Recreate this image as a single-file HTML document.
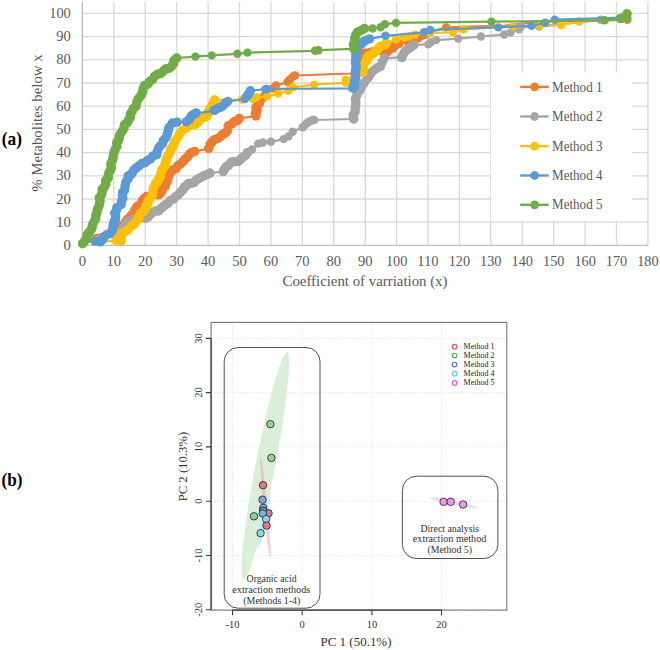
<!DOCTYPE html>
<html><head><meta charset="utf-8"><style>
html,body{margin:0;padding:0;background:#fff;width:660px;height:650px;overflow:hidden}
svg{display:block}
svg text{font-family:"Liberation Serif",serif}
</style></head><body>
<svg width="660" height="650" viewBox="0 0 660 650">
<rect width="660" height="650" fill="#fff"/>
<path d="M82.4 2V245.4 M113.8 2V245.4 M145.2 2V245.4 M176.7 2V245.4 M208.1 2V245.4 M239.5 2V245.4 M270.9 2V245.4 M302.3 2V245.4 M333.7 2V245.4 M365.2 2V245.4 M396.6 2V245.4 M428.0 2V245.4 M459.4 2V245.4 M490.8 2V245.4 M522.2 2V245.4 M553.7 2V245.4 M585.1 2V245.4 M616.5 2V245.4 M647.9 2V245.4 M82.4 222.2H647.9 M82.4 199.0H647.9 M82.4 175.8H647.9 M82.4 152.6H647.9 M82.4 129.4H647.9 M82.4 106.2H647.9 M82.4 83.0H647.9 M82.4 59.8H647.9 M82.4 36.6H647.9 M82.4 13.4H647.9" stroke="#d9d9d9" stroke-width="1.3" fill="none"/>
<path d="M82.4 2V245.4H647.9" stroke="#bfbfbf" stroke-width="1.3" fill="none"/>
<g font-family="Liberation Serif, serif" font-size="14.2" fill="#595959"><text x="70.8" y="249.9" text-anchor="end" textLength="7.3" lengthAdjust="spacingAndGlyphs">0</text><text x="70.8" y="226.7" text-anchor="end" textLength="14.6" lengthAdjust="spacingAndGlyphs">10</text><text x="70.8" y="203.5" text-anchor="end" textLength="14.6" lengthAdjust="spacingAndGlyphs">20</text><text x="70.8" y="180.3" text-anchor="end" textLength="14.6" lengthAdjust="spacingAndGlyphs">30</text><text x="70.8" y="157.1" text-anchor="end" textLength="14.6" lengthAdjust="spacingAndGlyphs">40</text><text x="70.8" y="133.9" text-anchor="end" textLength="14.6" lengthAdjust="spacingAndGlyphs">50</text><text x="70.8" y="110.7" text-anchor="end" textLength="14.6" lengthAdjust="spacingAndGlyphs">60</text><text x="70.8" y="87.5" text-anchor="end" textLength="14.6" lengthAdjust="spacingAndGlyphs">70</text><text x="70.8" y="64.3" text-anchor="end" textLength="14.6" lengthAdjust="spacingAndGlyphs">80</text><text x="70.8" y="41.1" text-anchor="end" textLength="14.6" lengthAdjust="spacingAndGlyphs">90</text><text x="70.8" y="17.9" text-anchor="end" textLength="21.6" lengthAdjust="spacingAndGlyphs">100</text><text x="82.4" y="266.0" text-anchor="middle" textLength="7.3" lengthAdjust="spacingAndGlyphs">0</text><text x="113.8" y="266.0" text-anchor="middle" textLength="14.6" lengthAdjust="spacingAndGlyphs">10</text><text x="145.2" y="266.0" text-anchor="middle" textLength="14.6" lengthAdjust="spacingAndGlyphs">20</text><text x="176.7" y="266.0" text-anchor="middle" textLength="14.6" lengthAdjust="spacingAndGlyphs">30</text><text x="208.1" y="266.0" text-anchor="middle" textLength="14.6" lengthAdjust="spacingAndGlyphs">40</text><text x="239.5" y="266.0" text-anchor="middle" textLength="14.6" lengthAdjust="spacingAndGlyphs">50</text><text x="270.9" y="266.0" text-anchor="middle" textLength="14.6" lengthAdjust="spacingAndGlyphs">60</text><text x="302.3" y="266.0" text-anchor="middle" textLength="14.6" lengthAdjust="spacingAndGlyphs">70</text><text x="333.7" y="266.0" text-anchor="middle" textLength="14.6" lengthAdjust="spacingAndGlyphs">80</text><text x="365.2" y="266.0" text-anchor="middle" textLength="14.6" lengthAdjust="spacingAndGlyphs">90</text><text x="396.6" y="266.0" text-anchor="middle" textLength="21.4" lengthAdjust="spacingAndGlyphs">100</text><text x="428.0" y="266.0" text-anchor="middle" textLength="21.4" lengthAdjust="spacingAndGlyphs">110</text><text x="459.4" y="266.0" text-anchor="middle" textLength="21.4" lengthAdjust="spacingAndGlyphs">120</text><text x="490.8" y="266.0" text-anchor="middle" textLength="21.4" lengthAdjust="spacingAndGlyphs">130</text><text x="522.2" y="266.0" text-anchor="middle" textLength="21.4" lengthAdjust="spacingAndGlyphs">140</text><text x="553.7" y="266.0" text-anchor="middle" textLength="21.4" lengthAdjust="spacingAndGlyphs">150</text><text x="585.1" y="266.0" text-anchor="middle" textLength="21.4" lengthAdjust="spacingAndGlyphs">160</text><text x="616.5" y="266.0" text-anchor="middle" textLength="21.4" lengthAdjust="spacingAndGlyphs">170</text><text x="647.9" y="266.0" text-anchor="middle" textLength="21.4" lengthAdjust="spacingAndGlyphs">180</text></g>
<text x="365" y="286.4" text-anchor="middle" font-family="Liberation Serif, serif" font-size="14.8" fill="#595959" textLength="165" lengthAdjust="spacingAndGlyphs">Coefficient of varriation (x)</text>
<text transform="translate(41.8,123) rotate(-90)" text-anchor="middle" font-family="Liberation Serif, serif" font-size="14.8" fill="#595959" textLength="137.5" lengthAdjust="spacingAndGlyphs">% Metabolites below x</text>
<polyline fill="none" stroke="#ED7D31" stroke-width="2.2" stroke-linejoin="round" points="81.0,240.5 92.2,235.9 102.4,234.0 113.5,232.8 117.4,232.0 120.0,229.0 125.8,222.0 131.9,215.8 137.3,207.5 142.5,201.5 146.5,196.5 146.5,195.4 158.1,194.6 161.9,190.8 165.8,183.1 169.6,175.4 173.5,170.0 178.1,166.2 182.7,161.5 190.0,154.6 194.6,151.5 209.2,148.5 210.0,143.8 214.6,140.0 220.8,136.5 226.9,131.0 228.5,126.2 234.6,121.5 239.2,118.5 255.5,115.8 256.5,108.0 259.0,103.0 262.0,99.0 264.5,96.0 272.5,88.5 276.0,85.5 287.5,82.0 290.0,79.5 293.0,76.5 295.0,75.5 350.4,73.5 360.0,72.0 361.5,66.0 362.7,59.8 364.6,53.5 372.0,51.8 379.4,50.0 386.4,51.8 392.7,47.6 399.1,43.3 407.6,41.7 413.0,40.2 418.2,38.6 422.4,35.9 426.0,34.5 430.2,32.3 446.1,27.4 505.3,25.5 524.4,23.4 549.8,21.5 627.3,19.8"/><g fill="#ED7D31"><circle cx="113.4" cy="232.5" r="4.75"/><circle cx="116.9" cy="231.6" r="4.75"/><circle cx="120.2" cy="229.2" r="4.75"/><circle cx="121.3" cy="226.2" r="4.75"/><circle cx="123.9" cy="224.4" r="4.75"/><circle cx="125.6" cy="221.8" r="4.75"/><circle cx="127.3" cy="219.4" r="4.75"/><circle cx="129.9" cy="217.9" r="4.75"/><circle cx="131.2" cy="215.3" r="4.75"/><circle cx="133.6" cy="213.0" r="4.75"/><circle cx="134.9" cy="209.8" r="4.75"/><circle cx="136.7" cy="207.0" r="4.75"/><circle cx="138.9" cy="205.4" r="4.75"/><circle cx="141.2" cy="203.9" r="4.75"/><circle cx="142.0" cy="201.1" r="4.75"/><circle cx="144.1" cy="198.7" r="4.75"/><circle cx="146.5" cy="196.5" r="4.75"/><circle cx="158.3" cy="194.8" r="4.75"/><circle cx="160.6" cy="193.3" r="4.75"/><circle cx="162.0" cy="190.9" r="4.75"/><circle cx="163.0" cy="188.1" r="4.75"/><circle cx="165.3" cy="186.1" r="4.75"/><circle cx="165.1" cy="182.7" r="4.75"/><circle cx="167.6" cy="180.8" r="4.75"/><circle cx="168.0" cy="177.8" r="4.75"/><circle cx="169.1" cy="175.0" r="4.75"/><circle cx="171.0" cy="172.3" r="4.75"/><circle cx="173.3" cy="169.7" r="4.75"/><circle cx="176.2" cy="168.5" r="4.75"/><circle cx="177.7" cy="165.8" r="4.75"/><circle cx="180.5" cy="164.0" r="4.75"/><circle cx="182.9" cy="161.7" r="4.75"/><circle cx="185.0" cy="159.0" r="4.75"/><circle cx="187.6" cy="157.0" r="4.75"/><circle cx="189.6" cy="153.9" r="4.75"/><circle cx="191.9" cy="152.4" r="4.75"/><circle cx="194.6" cy="151.5" r="4.75"/><circle cx="209.2" cy="148.5" r="4.2"/><circle cx="208.7" cy="148.4" r="4.75"/><circle cx="210.2" cy="144.1" r="4.75"/><circle cx="212.2" cy="141.8" r="4.75"/><circle cx="214.4" cy="139.7" r="4.75"/><circle cx="217.8" cy="138.4" r="4.75"/><circle cx="220.7" cy="136.4" r="4.75"/><circle cx="222.6" cy="134.4" r="4.75"/><circle cx="225.2" cy="133.2" r="4.75"/><circle cx="227.2" cy="131.1" r="4.75"/><circle cx="228.2" cy="125.8" r="4.75"/><circle cx="231.6" cy="124.0" r="4.75"/><circle cx="234.6" cy="121.5" r="4.75"/><circle cx="237.3" cy="120.6" r="4.75"/><circle cx="239.2" cy="118.5" r="4.75"/><circle cx="255.5" cy="115.8" r="4.2"/><circle cx="255.9" cy="115.9" r="4.75"/><circle cx="255.5" cy="113.2" r="4.75"/><circle cx="257.0" cy="110.7" r="4.75"/><circle cx="255.9" cy="107.7" r="4.75"/><circle cx="257.6" cy="105.4" r="4.75"/><circle cx="259.4" cy="103.3" r="4.75"/><circle cx="261.5" cy="98.6" r="4.75"/><circle cx="264.5" cy="96.0" r="4.75"/><circle cx="272.5" cy="88.5" r="4.2"/><circle cx="276.0" cy="85.5" r="4.2"/><circle cx="287.5" cy="82.0" r="4.2"/><circle cx="290.0" cy="79.5" r="4.2"/><circle cx="293.0" cy="76.5" r="4.2"/><circle cx="295.0" cy="75.5" r="4.2"/><circle cx="360.0" cy="72.0" r="4.75"/><circle cx="359.9" cy="68.8" r="4.75"/><circle cx="361.8" cy="66.1" r="4.75"/><circle cx="362.6" cy="63.0" r="4.75"/><circle cx="362.8" cy="59.8" r="4.75"/><circle cx="364.3" cy="56.8" r="4.75"/><circle cx="364.5" cy="53.2" r="4.75"/><circle cx="368.4" cy="53.0" r="4.75"/><circle cx="372.0" cy="52.0" r="4.75"/><circle cx="375.7" cy="51.0" r="4.75"/><circle cx="379.4" cy="49.9" r="4.75"/><circle cx="382.7" cy="51.5" r="4.75"/><circle cx="386.8" cy="52.5" r="4.75"/><circle cx="389.5" cy="49.7" r="4.75"/><circle cx="392.9" cy="47.8" r="4.75"/><circle cx="395.5" cy="44.8" r="4.75"/><circle cx="399.1" cy="43.3" r="4.75"/><circle cx="407.6" cy="41.7" r="4.2"/><circle cx="413.0" cy="40.2" r="4.2"/><circle cx="418.2" cy="38.6" r="4.2"/><circle cx="422.4" cy="35.9" r="4.2"/><circle cx="426.0" cy="34.5" r="4.2"/><circle cx="430.2" cy="32.3" r="4.2"/><circle cx="446.1" cy="27.4" r="4.2"/><circle cx="627.3" cy="19.8" r="4.2"/></g>
<polyline fill="none" stroke="#A5A5A5" stroke-width="2.2" stroke-linejoin="round" points="82.0,243.0 92.0,240.0 99.5,236.5 107.3,235.2 116.2,234.0 122.3,227.8 125.8,224.2 129.7,220.5 133.0,219.5 145.7,219.2 153.1,213.1 161.2,209.2 167.3,203.1 173.5,199.2 178.1,193.8 182.7,189.2 188.5,183.8 196.2,180.8 203.8,176.2 210.0,173.1 223.1,171.5 228.5,165.4 231.5,162.3 237.7,160.8 245.4,155.4 247.3,152.7 252.0,149.5 258.2,143.6 263.0,142.5 270.9,141.8 283.6,139.1 288.5,136.5 292.7,131.8 302.7,127.3 305.0,125.0 307.3,122.7 310.0,121.2 312.7,120.0 314.2,120.0 353.5,119.0 354.3,112.0 355.0,105.0 355.6,99.0 358.4,91.8 361.5,87.5 364.6,83.2 367.6,79.0 370.7,74.6 375.6,69.7 380.6,66.5 383.0,62.3 384.3,58.0 401.3,57.3 403.3,53.9 407.6,49.7 411.8,46.5 413.9,44.9 428.3,44.4 430.9,42.3 436.2,40.1 458.2,38.6 480.9,36.5 504.2,34.5 510.6,32.4 519.1,29.2 521.2,26.5 539.2,26.6 600.5,19.8 625.9,16.7"/><g fill="#A5A5A5"><circle cx="116.5" cy="234.3" r="4.75"/><circle cx="118.4" cy="232.1" r="4.75"/><circle cx="120.9" cy="230.5" r="4.75"/><circle cx="122.7" cy="228.2" r="4.75"/><circle cx="125.5" cy="223.9" r="4.75"/><circle cx="127.6" cy="222.2" r="4.75"/><circle cx="129.8" cy="220.8" r="4.75"/><circle cx="133.0" cy="219.5" r="4.75"/><circle cx="145.2" cy="218.5" r="4.75"/><circle cx="148.1" cy="217.1" r="4.75"/><circle cx="150.3" cy="214.7" r="4.75"/><circle cx="152.8" cy="212.5" r="4.75"/><circle cx="155.5" cy="211.1" r="4.75"/><circle cx="158.7" cy="210.9" r="4.75"/><circle cx="160.7" cy="208.7" r="4.75"/><circle cx="162.9" cy="206.8" r="4.75"/><circle cx="165.1" cy="205.0" r="4.75"/><circle cx="167.7" cy="203.7" r="4.75"/><circle cx="170.0" cy="200.5" r="4.75"/><circle cx="173.4" cy="199.1" r="4.75"/><circle cx="175.9" cy="196.6" r="4.75"/><circle cx="178.6" cy="194.3" r="4.75"/><circle cx="180.8" cy="191.9" r="4.75"/><circle cx="183.1" cy="189.7" r="4.75"/><circle cx="184.4" cy="187.1" r="4.75"/><circle cx="186.5" cy="185.5" r="4.75"/><circle cx="188.4" cy="183.6" r="4.75"/><circle cx="191.3" cy="183.4" r="4.75"/><circle cx="193.9" cy="182.6" r="4.75"/><circle cx="195.9" cy="180.3" r="4.75"/><circle cx="198.4" cy="178.8" r="4.75"/><circle cx="201.0" cy="177.3" r="4.75"/><circle cx="203.6" cy="175.8" r="4.75"/><circle cx="206.9" cy="174.6" r="4.75"/><circle cx="210.0" cy="173.1" r="4.75"/><circle cx="223.1" cy="171.5" r="4.2"/><circle cx="223.2" cy="171.6" r="4.75"/><circle cx="224.6" cy="169.2" r="4.75"/><circle cx="226.0" cy="166.8" r="4.75"/><circle cx="228.4" cy="165.3" r="4.75"/><circle cx="231.4" cy="162.1" r="4.75"/><circle cx="234.6" cy="161.7" r="4.75"/><circle cx="238.2" cy="161.5" r="4.75"/><circle cx="240.5" cy="159.3" r="4.75"/><circle cx="242.8" cy="157.2" r="4.75"/><circle cx="245.6" cy="155.5" r="4.75"/><circle cx="247.3" cy="152.7" r="4.75"/><circle cx="252.0" cy="149.5" r="4.2"/><circle cx="258.2" cy="143.6" r="4.2"/><circle cx="263.0" cy="142.5" r="4.2"/><circle cx="270.9" cy="141.8" r="4.2"/><circle cx="283.6" cy="139.1" r="4.2"/><circle cx="288.5" cy="136.5" r="4.2"/><circle cx="292.7" cy="131.8" r="4.2"/><circle cx="302.7" cy="127.3" r="4.2"/><circle cx="305.0" cy="125.0" r="4.2"/><circle cx="307.3" cy="122.7" r="4.2"/><circle cx="310.0" cy="121.2" r="4.2"/><circle cx="312.7" cy="120.0" r="4.2"/><circle cx="314.2" cy="120.0" r="4.2"/><circle cx="353.5" cy="119.0" r="4.2"/><circle cx="353.8" cy="119.0" r="4.75"/><circle cx="353.1" cy="115.4" r="4.75"/><circle cx="355.0" cy="112.1" r="4.75"/><circle cx="355.2" cy="108.6" r="4.75"/><circle cx="355.7" cy="105.1" r="4.75"/><circle cx="355.8" cy="102.1" r="4.75"/><circle cx="355.4" cy="98.9" r="4.75"/><circle cx="356.8" cy="95.3" r="4.75"/><circle cx="357.8" cy="91.4" r="4.75"/><circle cx="360.1" cy="89.8" r="4.75"/><circle cx="360.9" cy="87.0" r="4.75"/><circle cx="362.4" cy="84.9" r="4.75"/><circle cx="364.2" cy="82.9" r="4.75"/><circle cx="367.1" cy="78.6" r="4.75"/><circle cx="368.9" cy="76.6" r="4.75"/><circle cx="370.1" cy="74.0" r="4.75"/><circle cx="372.5" cy="71.5" r="4.75"/><circle cx="375.3" cy="69.2" r="4.75"/><circle cx="377.7" cy="67.5" r="4.75"/><circle cx="380.4" cy="66.4" r="4.75"/><circle cx="382.2" cy="62.1" r="4.75"/><circle cx="384.3" cy="58.0" r="4.75"/><circle cx="401.3" cy="57.3" r="4.2"/><circle cx="401.9" cy="57.6" r="4.75"/><circle cx="403.4" cy="54.0" r="4.75"/><circle cx="405.0" cy="51.3" r="4.75"/><circle cx="407.3" cy="49.3" r="4.75"/><circle cx="409.5" cy="47.9" r="4.75"/><circle cx="411.7" cy="46.3" r="4.75"/><circle cx="413.9" cy="44.9" r="4.75"/><circle cx="428.3" cy="44.4" r="4.2"/><circle cx="430.9" cy="42.3" r="4.2"/><circle cx="436.2" cy="40.1" r="4.2"/><circle cx="458.2" cy="38.6" r="4.2"/><circle cx="480.9" cy="36.5" r="4.2"/><circle cx="504.2" cy="34.5" r="4.2"/><circle cx="510.6" cy="32.4" r="4.2"/><circle cx="519.1" cy="29.2" r="4.2"/><circle cx="521.2" cy="26.5" r="4.2"/><circle cx="539.2" cy="26.6" r="4.2"/><circle cx="600.5" cy="19.8" r="4.2"/><circle cx="625.9" cy="16.7" r="4.2"/></g>
<polyline fill="none" stroke="#FFC000" stroke-width="2.2" stroke-linejoin="round" points="107.3,241.4 115.9,240.8 120.5,241.0 120.5,236.0 121.0,233.0 125.8,231.5 128.5,230.3 131.9,226.6 134.6,224.2 138.1,219.2 139.5,216.8 143.2,211.0 145.0,209.2 150.3,198.5 153.6,188.5 157.5,180.8 161.3,173.1 164.5,163.5 166.2,158.0 170.9,149.7 175.5,142.3 179.2,135.9 181.9,130.3 185.6,127.5 190.2,125.7 194.9,123.9 200.0,118.5 206.9,116.9 210.0,109.2 212.3,103.1 214.6,100.0 242.0,99.5 252.7,99.1 256.4,97.3 267.3,96.4 278.2,93.6 288.2,90.9 292.7,87.3 314.2,84.6 345.8,82.6 345.8,80.0 362.3,72.0 363.2,68.0 364.6,63.0 366.5,60.0 369.5,55.5 374.5,51.8 380.6,46.9 384.3,44.5 386.0,43.5 395.9,39.6 404.0,37.8 409.0,36.5 415.0,34.8 424.5,32.7 430.2,33.0 452.9,32.3 463.5,29.2 512.7,26.6 539.2,26.0 561.5,25.0 579.2,21.5 623.8,18.8"/><g fill="#FFC000"><circle cx="115.9" cy="240.1" r="4.75"/><circle cx="121.1" cy="241.0" r="4.75"/><circle cx="121.4" cy="236.1" r="4.75"/><circle cx="121.0" cy="232.9" r="4.75"/><circle cx="125.8" cy="231.5" r="4.75"/><circle cx="128.0" cy="229.8" r="4.75"/><circle cx="131.4" cy="226.1" r="4.75"/><circle cx="134.4" cy="224.0" r="4.75"/><circle cx="136.0" cy="221.5" r="4.75"/><circle cx="138.6" cy="219.5" r="4.75"/><circle cx="139.0" cy="216.5" r="4.75"/><circle cx="140.6" cy="213.4" r="4.75"/><circle cx="143.8" cy="211.6" r="4.75"/><circle cx="145.0" cy="209.2" r="4.75"/><circle cx="145.8" cy="206.2" r="4.75"/><circle cx="147.7" cy="203.9" r="4.75"/><circle cx="148.2" cy="200.8" r="4.75"/><circle cx="150.3" cy="198.5" r="4.75"/><circle cx="151.9" cy="196.3" r="4.75"/><circle cx="152.6" cy="193.7" r="4.75"/><circle cx="153.1" cy="191.1" r="4.75"/><circle cx="153.2" cy="188.3" r="4.75"/><circle cx="154.7" cy="185.8" r="4.75"/><circle cx="155.7" cy="183.1" r="4.75"/><circle cx="157.9" cy="181.0" r="4.75"/><circle cx="158.8" cy="178.3" r="4.75"/><circle cx="160.5" cy="175.9" r="4.75"/><circle cx="161.0" cy="173.0" r="4.75"/><circle cx="161.9" cy="169.7" r="4.75"/><circle cx="164.0" cy="166.9" r="4.75"/><circle cx="165.3" cy="163.8" r="4.75"/><circle cx="166.0" cy="160.9" r="4.75"/><circle cx="166.7" cy="158.3" r="4.75"/><circle cx="168.3" cy="155.5" r="4.75"/><circle cx="169.7" cy="152.7" r="4.75"/><circle cx="170.5" cy="149.4" r="4.75"/><circle cx="172.5" cy="147.3" r="4.75"/><circle cx="173.7" cy="144.6" r="4.75"/><circle cx="174.8" cy="141.9" r="4.75"/><circle cx="176.6" cy="138.7" r="4.75"/><circle cx="178.8" cy="135.7" r="4.75"/><circle cx="180.2" cy="132.9" r="4.75"/><circle cx="182.1" cy="130.6" r="4.75"/><circle cx="185.9" cy="128.3" r="4.75"/><circle cx="190.2" cy="125.6" r="4.75"/><circle cx="195.5" cy="124.4" r="4.75"/><circle cx="198.1" cy="121.8" r="4.75"/><circle cx="200.2" cy="119.3" r="4.75"/><circle cx="203.4" cy="117.5" r="4.75"/><circle cx="206.4" cy="116.7" r="4.75"/><circle cx="207.5" cy="114.1" r="4.75"/><circle cx="208.5" cy="111.6" r="4.75"/><circle cx="209.5" cy="109.0" r="4.75"/><circle cx="211.4" cy="106.2" r="4.75"/><circle cx="212.9" cy="103.5" r="4.75"/><circle cx="214.6" cy="100.0" r="4.75"/><circle cx="242.0" cy="99.5" r="4.2"/><circle cx="252.7" cy="99.1" r="4.2"/><circle cx="256.4" cy="97.3" r="4.2"/><circle cx="267.3" cy="96.4" r="4.2"/><circle cx="278.2" cy="93.6" r="4.2"/><circle cx="288.2" cy="90.9" r="4.2"/><circle cx="292.7" cy="87.3" r="4.2"/><circle cx="314.2" cy="84.6" r="4.2"/><circle cx="345.8" cy="82.6" r="4.2"/><circle cx="345.8" cy="80.0" r="4.2"/><circle cx="362.9" cy="72.1" r="4.75"/><circle cx="363.2" cy="68.0" r="4.75"/><circle cx="364.8" cy="63.1" r="4.75"/><circle cx="366.9" cy="60.3" r="4.75"/><circle cx="367.4" cy="57.3" r="4.75"/><circle cx="369.7" cy="55.7" r="4.75"/><circle cx="372.4" cy="54.2" r="4.75"/><circle cx="374.8" cy="52.2" r="4.75"/><circle cx="376.8" cy="50.5" r="4.75"/><circle cx="378.5" cy="48.5" r="4.75"/><circle cx="380.3" cy="46.4" r="4.75"/><circle cx="384.6" cy="44.9" r="4.75"/><circle cx="386.0" cy="43.5" r="4.75"/><circle cx="395.9" cy="39.6" r="4.2"/><circle cx="404.0" cy="37.8" r="4.2"/><circle cx="409.0" cy="36.5" r="4.2"/><circle cx="415.0" cy="34.8" r="4.2"/><circle cx="424.5" cy="32.7" r="4.2"/><circle cx="430.2" cy="33.0" r="4.2"/><circle cx="452.9" cy="32.3" r="4.2"/><circle cx="463.5" cy="29.2" r="4.2"/><circle cx="512.7" cy="26.6" r="4.2"/><circle cx="539.2" cy="26.0" r="4.2"/><circle cx="561.5" cy="25.0" r="4.2"/><circle cx="579.2" cy="21.5" r="4.2"/><circle cx="623.8" cy="18.8" r="4.2"/></g>
<polyline fill="none" stroke="#5B9BD5" stroke-width="2.2" stroke-linejoin="round" points="81.5,242.0 89.8,241.7 95.0,241.4 100.0,241.4 104.8,236.5 109.8,232.8 113.5,227.8 114.7,221.7 115.3,213.1 116.5,206.9 120.8,204.5 122.7,198.3 123.9,189.7 125.8,182.3 128.2,176.2 131.9,172.5 136.5,168.3 142.0,164.0 145.0,162.6 150.5,159.0 156.1,154.3 158.9,147.9 163.5,140.5 167.2,134.0 169.0,127.5 172.7,123.9 177.0,122.2 186.6,121.8 190.2,119.2 193.9,113.7 196.2,113.1 214.6,110.8 217.7,108.5 223.1,105.4 227.7,101.5 245.0,99.0 248.2,93.8 250.3,90.8 265.4,89.2 266.8,89.0 353.3,88.3 354.5,86.5 355.2,78.5 355.5,63.0 356.0,53.8 357.5,47.0 360.9,44.5 364.6,40.2 369.5,38.9 385.5,35.8 424.1,32.3 430.2,30.0 498.3,27.4 531.5,25.8 545.3,22.8 554.6,19.7 623.8,17.7"/><g fill="#5B9BD5"><circle cx="95.0" cy="241.1" r="4.75"/><circle cx="100.4" cy="241.8" r="4.75"/><circle cx="103.0" cy="239.5" r="4.75"/><circle cx="104.7" cy="236.3" r="4.75"/><circle cx="107.2" cy="234.5" r="4.75"/><circle cx="110.4" cy="233.3" r="4.75"/><circle cx="112.0" cy="230.5" r="4.75"/><circle cx="112.9" cy="227.7" r="4.75"/><circle cx="113.4" cy="224.6" r="4.75"/><circle cx="114.1" cy="221.7" r="4.75"/><circle cx="115.6" cy="218.9" r="4.75"/><circle cx="115.7" cy="216.0" r="4.75"/><circle cx="114.7" cy="213.0" r="4.75"/><circle cx="116.5" cy="210.1" r="4.75"/><circle cx="116.9" cy="207.7" r="4.75"/><circle cx="121.1" cy="204.6" r="4.75"/><circle cx="121.5" cy="201.3" r="4.75"/><circle cx="122.8" cy="198.3" r="4.75"/><circle cx="122.4" cy="195.3" r="4.75"/><circle cx="122.6" cy="192.4" r="4.75"/><circle cx="124.7" cy="189.9" r="4.75"/><circle cx="125.1" cy="186.1" r="4.75"/><circle cx="125.8" cy="182.3" r="4.75"/><circle cx="127.7" cy="179.5" r="4.75"/><circle cx="128.1" cy="176.1" r="4.75"/><circle cx="130.5" cy="174.8" r="4.75"/><circle cx="132.3" cy="172.9" r="4.75"/><circle cx="133.8" cy="170.0" r="4.75"/><circle cx="136.2" cy="167.9" r="4.75"/><circle cx="139.0" cy="165.9" r="4.75"/><circle cx="141.8" cy="163.6" r="4.75"/><circle cx="145.1" cy="162.7" r="4.75"/><circle cx="147.5" cy="160.4" r="4.75"/><circle cx="150.4" cy="158.9" r="4.75"/><circle cx="152.9" cy="156.1" r="4.75"/><circle cx="156.8" cy="154.6" r="4.75"/><circle cx="157.3" cy="151.0" r="4.75"/><circle cx="158.8" cy="147.9" r="4.75"/><circle cx="160.6" cy="145.5" r="4.75"/><circle cx="162.6" cy="143.4" r="4.75"/><circle cx="163.4" cy="140.4" r="4.75"/><circle cx="166.0" cy="137.6" r="4.75"/><circle cx="167.2" cy="134.0" r="4.75"/><circle cx="168.2" cy="130.8" r="4.75"/><circle cx="169.0" cy="127.5" r="4.75"/><circle cx="172.4" cy="123.1" r="4.75"/><circle cx="177.0" cy="122.2" r="4.75"/><circle cx="186.6" cy="121.8" r="4.2"/><circle cx="186.5" cy="121.7" r="4.75"/><circle cx="189.7" cy="118.9" r="4.75"/><circle cx="191.3" cy="116.0" r="4.75"/><circle cx="194.0" cy="114.2" r="4.75"/><circle cx="196.2" cy="113.1" r="4.75"/><circle cx="214.6" cy="110.8" r="4.2"/><circle cx="214.2" cy="110.3" r="4.75"/><circle cx="217.7" cy="108.5" r="4.75"/><circle cx="220.6" cy="107.3" r="4.75"/><circle cx="223.2" cy="105.5" r="4.75"/><circle cx="225.2" cy="103.2" r="4.75"/><circle cx="227.7" cy="101.5" r="4.75"/><circle cx="245.0" cy="99.0" r="4.2"/><circle cx="246.7" cy="96.5" r="4.75"/><circle cx="248.6" cy="94.1" r="4.75"/><circle cx="250.3" cy="90.8" r="4.75"/><circle cx="265.4" cy="89.2" r="4.2"/><circle cx="266.8" cy="89.0" r="4.2"/><circle cx="353.3" cy="88.3" r="4.2"/><circle cx="352.7" cy="87.9" r="4.75"/><circle cx="354.6" cy="86.5" r="4.75"/><circle cx="354.3" cy="83.8" r="4.75"/><circle cx="354.6" cy="81.1" r="4.75"/><circle cx="355.7" cy="78.5" r="4.75"/><circle cx="355.3" cy="75.4" r="4.75"/><circle cx="355.4" cy="72.3" r="4.75"/><circle cx="355.8" cy="69.2" r="4.75"/><circle cx="356.2" cy="66.1" r="4.75"/><circle cx="355.4" cy="63.0" r="4.75"/><circle cx="355.9" cy="59.9" r="4.75"/><circle cx="355.8" cy="56.9" r="4.75"/><circle cx="356.0" cy="53.8" r="4.75"/><circle cx="357.1" cy="50.5" r="4.75"/><circle cx="357.4" cy="46.9" r="4.75"/><circle cx="360.9" cy="44.5" r="4.75"/><circle cx="362.7" cy="42.3" r="4.75"/><circle cx="364.8" cy="41.0" r="4.75"/><circle cx="369.5" cy="38.9" r="4.75"/><circle cx="385.5" cy="35.8" r="4.2"/><circle cx="424.1" cy="32.3" r="4.2"/><circle cx="430.2" cy="30.0" r="4.2"/><circle cx="498.3" cy="27.4" r="4.2"/><circle cx="531.5" cy="25.8" r="4.2"/><circle cx="545.3" cy="22.8" r="4.2"/><circle cx="554.6" cy="19.7" r="4.2"/><circle cx="623.8" cy="17.7" r="4.2"/></g>
<polyline fill="none" stroke="#70AD47" stroke-width="2.2" stroke-linejoin="round" points="82.2,243.5 86.3,237.5 90.0,230.0 93.0,225.5 95.8,219.0 98.1,209.6 99.8,198.1 103.9,186.5 108.5,175.0 111.4,164.0 114.5,152.9 117.5,143.0 121.2,133.2 126.7,122.2 133.9,109.1 138.5,99.9 142.2,91.6 144.9,86.0 149.5,81.4 155.1,76.8 160.6,73.1 166.2,69.4 171.7,65.7 174.5,61.1 176.7,58.0 195.4,56.6 211.8,55.4 237.4,53.8 247.4,52.6 315.0,50.8 318.5,50.2 353.5,48.8 354.2,44.5 354.8,38.3 357.2,32.2 360.9,29.7 364.6,28.5 372.6,28.5 380.6,27.2 384.9,24.2 396.0,22.9 491.5,21.7 604.7,20.3 620.6,18.8 626.8,18.0 627.0,13.8"/><g fill="#70AD47"><circle cx="82.5" cy="243.7" r="4.75"/><circle cx="84.8" cy="240.9" r="4.75"/><circle cx="87.0" cy="237.9" r="4.75"/><circle cx="87.1" cy="234.8" r="4.75"/><circle cx="88.9" cy="232.5" r="4.75"/><circle cx="90.7" cy="230.4" r="4.75"/><circle cx="92.0" cy="228.1" r="4.75"/><circle cx="92.4" cy="225.2" r="4.75"/><circle cx="93.8" cy="222.0" r="4.75"/><circle cx="95.7" cy="219.0" r="4.75"/><circle cx="95.8" cy="215.7" r="4.75"/><circle cx="96.9" cy="212.6" r="4.75"/><circle cx="97.3" cy="209.5" r="4.75"/><circle cx="98.8" cy="206.8" r="4.75"/><circle cx="99.5" cy="203.9" r="4.75"/><circle cx="100.1" cy="201.1" r="4.75"/><circle cx="99.2" cy="197.9" r="4.75"/><circle cx="101.2" cy="195.3" r="4.75"/><circle cx="102.1" cy="192.4" r="4.75"/><circle cx="102.3" cy="189.2" r="4.75"/><circle cx="104.5" cy="186.8" r="4.75"/><circle cx="105.8" cy="183.9" r="4.75"/><circle cx="105.7" cy="180.6" r="4.75"/><circle cx="108.1" cy="178.2" r="4.75"/><circle cx="108.3" cy="175.0" r="4.75"/><circle cx="109.2" cy="172.2" r="4.75"/><circle cx="110.8" cy="169.7" r="4.75"/><circle cx="111.3" cy="166.9" r="4.75"/><circle cx="110.8" cy="163.8" r="4.75"/><circle cx="112.1" cy="161.2" r="4.75"/><circle cx="113.0" cy="158.5" r="4.75"/><circle cx="113.4" cy="155.6" r="4.75"/><circle cx="114.0" cy="152.7" r="4.75"/><circle cx="115.2" cy="149.5" r="4.75"/><circle cx="116.9" cy="146.4" r="4.75"/><circle cx="116.7" cy="142.7" r="4.75"/><circle cx="118.5" cy="140.6" r="4.75"/><circle cx="119.2" cy="138.1" r="4.75"/><circle cx="119.5" cy="135.3" r="4.75"/><circle cx="120.9" cy="133.1" r="4.75"/><circle cx="122.8" cy="130.5" r="4.75"/><circle cx="124.0" cy="127.7" r="4.75"/><circle cx="124.6" cy="124.6" r="4.75"/><circle cx="127.5" cy="122.6" r="4.75"/><circle cx="128.6" cy="119.8" r="4.75"/><circle cx="130.3" cy="117.4" r="4.75"/><circle cx="130.4" cy="114.0" r="4.75"/><circle cx="132.1" cy="111.5" r="4.75"/><circle cx="133.2" cy="108.7" r="4.75"/><circle cx="135.9" cy="106.3" r="4.75"/><circle cx="136.6" cy="102.8" r="4.75"/><circle cx="137.9" cy="99.6" r="4.75"/><circle cx="139.6" cy="97.1" r="4.75"/><circle cx="141.6" cy="94.7" r="4.75"/><circle cx="142.7" cy="91.8" r="4.75"/><circle cx="143.2" cy="88.6" r="4.75"/><circle cx="144.5" cy="85.6" r="4.75"/><circle cx="147.7" cy="84.2" r="4.75"/><circle cx="149.6" cy="81.5" r="4.75"/><circle cx="152.5" cy="79.4" r="4.75"/><circle cx="154.7" cy="76.2" r="4.75"/><circle cx="157.4" cy="74.3" r="4.75"/><circle cx="160.8" cy="73.4" r="4.75"/><circle cx="163.3" cy="71.1" r="4.75"/><circle cx="165.8" cy="68.8" r="4.75"/><circle cx="169.4" cy="68.2" r="4.75"/><circle cx="171.9" cy="65.8" r="4.75"/><circle cx="173.6" cy="63.7" r="4.75"/><circle cx="173.9" cy="60.7" r="4.75"/><circle cx="176.7" cy="58.0" r="4.75"/><circle cx="195.4" cy="56.6" r="4.2"/><circle cx="211.8" cy="55.4" r="4.2"/><circle cx="237.4" cy="53.8" r="4.2"/><circle cx="247.4" cy="52.6" r="4.2"/><circle cx="315.0" cy="50.8" r="4.2"/><circle cx="318.5" cy="50.2" r="4.2"/><circle cx="353.5" cy="48.8" r="4.2"/><circle cx="354.1" cy="48.9" r="4.75"/><circle cx="353.4" cy="44.4" r="4.75"/><circle cx="355.1" cy="41.5" r="4.75"/><circle cx="354.7" cy="38.3" r="4.75"/><circle cx="355.7" cy="35.1" r="4.75"/><circle cx="357.3" cy="32.3" r="4.75"/><circle cx="361.1" cy="30.4" r="4.75"/><circle cx="364.6" cy="28.5" r="4.75"/><circle cx="372.6" cy="28.5" r="4.2"/><circle cx="380.6" cy="27.2" r="4.2"/><circle cx="384.9" cy="24.2" r="4.2"/><circle cx="396.0" cy="22.9" r="4.2"/><circle cx="491.5" cy="21.7" r="4.2"/><circle cx="604.7" cy="20.3" r="4.2"/><circle cx="620.6" cy="18.8" r="4.2"/><circle cx="620.5" cy="18.4" r="4.75"/><circle cx="623.6" cy="17.7" r="4.75"/><circle cx="626.8" cy="18.0" r="4.75"/><circle cx="627.0" cy="13.8" r="4.75"/></g>
<rect x="491" y="72.5" width="141" height="148" fill="#fff"/>
<line x1="520.2" y1="86.9" x2="548.7" y2="86.9" stroke="#ED7D31" stroke-width="2.4"/><circle cx="534.6" cy="86.9" r="4.4" fill="#ED7D31"/>
<text x="552" y="91.5" font-family="Liberation Serif, serif" font-size="13.6" fill="#595959" textLength="50.5" lengthAdjust="spacingAndGlyphs">Method 1</text>
<line x1="520.2" y1="116.5" x2="548.7" y2="116.5" stroke="#A5A5A5" stroke-width="2.4"/><circle cx="534.6" cy="116.5" r="4.4" fill="#A5A5A5"/>
<text x="552" y="121.1" font-family="Liberation Serif, serif" font-size="13.6" fill="#595959" textLength="50.5" lengthAdjust="spacingAndGlyphs">Method 2</text>
<line x1="520.2" y1="146.1" x2="548.7" y2="146.1" stroke="#FFC000" stroke-width="2.4"/><circle cx="534.6" cy="146.1" r="4.4" fill="#FFC000"/>
<text x="552" y="150.7" font-family="Liberation Serif, serif" font-size="13.6" fill="#595959" textLength="50.5" lengthAdjust="spacingAndGlyphs">Method 3</text>
<line x1="520.2" y1="175.5" x2="548.7" y2="175.5" stroke="#5B9BD5" stroke-width="2.4"/><circle cx="534.6" cy="175.5" r="4.4" fill="#5B9BD5"/>
<text x="552" y="180.1" font-family="Liberation Serif, serif" font-size="13.6" fill="#595959" textLength="50.5" lengthAdjust="spacingAndGlyphs">Method 4</text>
<line x1="520.2" y1="204.8" x2="548.7" y2="204.8" stroke="#70AD47" stroke-width="2.4"/><circle cx="534.6" cy="204.8" r="4.4" fill="#70AD47"/>
<text x="552" y="209.4" font-family="Liberation Serif, serif" font-size="13.6" fill="#595959" textLength="50.5" lengthAdjust="spacingAndGlyphs">Method 5</text>
<path d="M232.5 322.4V610.1 M302.2 322.4V610.1 M371.9 322.4V610.1 M441.5 322.4V610.1 M211.1 338.4H506.8 M211.1 392.6H506.8 M211.1 446.9H506.8 M211.1 501.2H506.8 M211.1 555.5H506.8 M211.1 609.8H506.8" stroke="#dcdcdc" stroke-width="0.9" stroke-dasharray="1.2,1.8" fill="none"/>
<ellipse cx="265.3" cy="465.8" rx="115.8" ry="9.8" transform="rotate(100.90 265.3 465.8)" fill="#daefda"/>
<ellipse cx="263.5" cy="520.5" rx="28.1" ry="3.5" transform="rotate(102.31 263.5 520.5)" fill="#c9eef4"/>
<ellipse cx="265.5" cy="508.0" rx="50.7" ry="1.9" transform="rotate(84.51 265.5 508.0)" fill="rgba(240,140,165,0.42)"/>
<ellipse cx="453.0" cy="502.5" rx="24.5" ry="1.6" transform="rotate(11.77 453.0 502.5)" fill="rgba(240,150,240,0.45)"/>
<g stroke="#2a2a2a" stroke-width="0.85"><circle cx="270.4" cy="424.2" r="3.75" fill="#8fd48f"/><circle cx="271.4" cy="457.9" r="3.75" fill="#8fd48f"/><circle cx="263.0" cy="485.2" r="3.75" fill="#e8748a"/><circle cx="262.5" cy="499.7" r="3.75" fill="#8fa0dc"/><circle cx="254.0" cy="516.3" r="3.75" fill="#8fd48f"/><circle cx="263.2" cy="508.0" r="3.75" fill="#8fa0dc"/><circle cx="268.5" cy="513.3" r="3.75" fill="#e8748a"/><circle cx="263.2" cy="510.8" r="3.75" fill="#5b95d0"/><circle cx="262.8" cy="513.5" r="3.75" fill="#6fb8e0"/><circle cx="266.2" cy="519.1" r="3.75" fill="#88d8ee"/><circle cx="266.5" cy="525.6" r="3.75" fill="#e8748a"/><circle cx="260.6" cy="533.2" r="3.75" fill="#88d8ee"/><circle cx="443.6" cy="501.8" r="3.75" fill="#ee99ee"/><circle cx="450.7" cy="501.8" r="3.75" fill="#ee99ee"/><circle cx="463.1" cy="504.5" r="3.75" fill="#ee99ee"/></g>
<rect x="224.2" y="347.5" width="95.8" height="260.7" rx="14" fill="none" stroke="#505050" stroke-width="1"/>
<rect x="402.4" y="476.2" width="95.5" height="82.3" rx="14" fill="none" stroke="#505050" stroke-width="1"/>
<rect x="211.1" y="322.4" width="295.7" height="287.7" fill="none" stroke="#777" stroke-width="1.1"/>
<path d="M211.1 338.4V609.8M232.5 610.1H441.5" stroke="#3a3a3a" stroke-width="1.2" fill="none"/>
<path d="M205.8 338.4H211.1 M205.8 392.6H211.1 M205.8 446.9H211.1 M205.8 501.2H211.1 M205.8 555.5H211.1 M205.8 609.8H211.1 M232.5 610.1V615.2 M302.2 610.1V615.2 M371.9 610.1V615.2 M441.5 610.1V615.2" stroke="#3a3a3a" stroke-width="1.1" fill="none"/>
<g font-family="Liberation Serif, serif" font-size="10.5" fill="#333"><text transform="translate(202.4,338.4) rotate(-90)" text-anchor="middle">30</text><text transform="translate(202.4,392.6) rotate(-90)" text-anchor="middle">20</text><text transform="translate(202.4,446.9) rotate(-90)" text-anchor="middle">10</text><text transform="translate(202.4,501.2) rotate(-90)" text-anchor="middle">0</text><text transform="translate(202.4,555.5) rotate(-90)" text-anchor="middle">-10</text><text transform="translate(202.4,609.8) rotate(-90)" text-anchor="middle">-20</text><text x="232.5" y="627.9" text-anchor="middle">-10</text><text x="302.2" y="627.9" text-anchor="middle">0</text><text x="371.9" y="627.9" text-anchor="middle">10</text><text x="441.5" y="627.9" text-anchor="middle">20</text></g>
<text x="356" y="645.5" text-anchor="middle" font-family="Liberation Serif, serif" font-size="13" fill="#333" textLength="71" lengthAdjust="spacingAndGlyphs">PC 1 (50.1%)</text>
<text transform="translate(187.2,466.6) rotate(-90)" text-anchor="middle" font-family="Liberation Serif, serif" font-size="13" fill="#333" textLength="69.5" lengthAdjust="spacingAndGlyphs">PC 2 (10.3%)</text>
<g font-family="Liberation Serif, serif" font-size="9.9" fill="#333" text-anchor="middle"><text x="271.6" y="581.7" textLength="50" lengthAdjust="spacingAndGlyphs">Organic acid</text><text x="271.3" y="592.6" textLength="78" lengthAdjust="spacingAndGlyphs">extraction methods</text><text x="271.8" y="604.0" textLength="57" lengthAdjust="spacingAndGlyphs">(Methods 1-4)</text><text x="449.8" y="531.8" textLength="58.5" lengthAdjust="spacingAndGlyphs">Direct analysis</text><text x="449.6" y="542.4" textLength="73.5" lengthAdjust="spacingAndGlyphs">extraction method</text><text x="449.7" y="553" textLength="44.5" lengthAdjust="spacingAndGlyphs">(Method 5)</text></g>
<circle cx="454.6" cy="346.7" r="2.3" fill="none" stroke="#e05070" stroke-width="1.1"/>
<text x="463.6" y="349.0" font-family="Liberation Serif, serif" font-size="7.7" fill="#222" textLength="30.8" lengthAdjust="spacingAndGlyphs">Method 1</text>
<circle cx="454.6" cy="355.5" r="2.3" fill="none" stroke="#50b050" stroke-width="1.1"/>
<text x="463.6" y="357.8" font-family="Liberation Serif, serif" font-size="7.7" fill="#222" textLength="30.8" lengthAdjust="spacingAndGlyphs">Method 2</text>
<circle cx="454.6" cy="364.6" r="2.3" fill="none" stroke="#5a6fd8" stroke-width="1.1"/>
<text x="463.6" y="366.9" font-family="Liberation Serif, serif" font-size="7.7" fill="#222" textLength="30.8" lengthAdjust="spacingAndGlyphs">Method 3</text>
<circle cx="454.6" cy="373.7" r="2.3" fill="none" stroke="#50d0e0" stroke-width="1.1"/>
<text x="463.6" y="376.0" font-family="Liberation Serif, serif" font-size="7.7" fill="#222" textLength="30.8" lengthAdjust="spacingAndGlyphs">Method 4</text>
<circle cx="454.6" cy="382.9" r="2.3" fill="none" stroke="#e050e0" stroke-width="1.1"/>
<text x="463.6" y="385.2" font-family="Liberation Serif, serif" font-size="7.7" fill="#222" textLength="30.8" lengthAdjust="spacingAndGlyphs">Method 5</text>
<text x="1.8" y="144.8" font-family="Liberation Serif, serif" font-weight="bold" font-size="18.3" fill="#000" textLength="20.2" lengthAdjust="spacingAndGlyphs">(a)</text>
<text x="1.5" y="485.9" font-family="Liberation Serif, serif" font-weight="bold" font-size="18.3" fill="#000" textLength="21" lengthAdjust="spacingAndGlyphs">(b)</text>
</svg>
</body></html>
